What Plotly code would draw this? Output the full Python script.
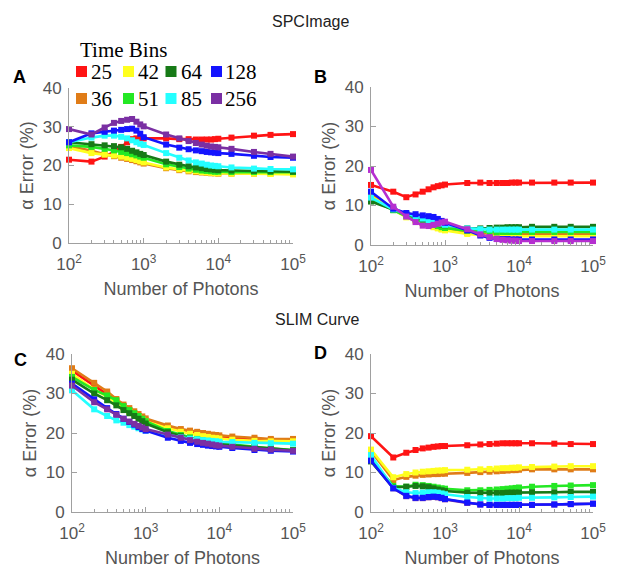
import plotly.graph_objects as go

# ---------------- data ----------------
photons = [100, 200, 300, 400, 500, 600, 700, 800, 900, 1000,
           2000, 3000, 4000, 5000, 6000, 7000, 8000, 9000, 10000,
           15000, 30000, 50000, 100000]
time_bins = [25, 36, 42, 51, 64, 85, 128, 256]
bin_colors = ['#ff1414', '#e07c17', '#ffff1e', '#24e824', '#177a17', '#24ffff', '#1414ff', '#7a2fa3']

x_tick_vals = [100, 1000, 10000, 100000]
x_tick_text = ['10<sup>2</sup>', '10<sup>3</sup>', '10<sup>4</sup>', '10<sup>5</sup>']
y_tick_vals = [0, 10, 20, 30, 40]

# Panel A: SPCImage, alpha error (%)
a_25 = [21.5, 21.0, 22.3, 23.5, 24.8, 26.0, 26.8, 27.0, 27.0, 27.0, 27.0, 26.8, 26.8, 26.7, 26.7, 26.7, 26.7, 26.8, 26.9, 27.2, 27.7, 27.9, 28.1]
a_36 = [25.0, 23.8, 22.9, 22.4, 22.0, 21.7, 21.4, 21.1, 20.8, 20.5, 19.3, 18.8, 18.5, 18.3, 18.2, 18.1, 18.0, 18.0, 17.9, 17.9, 17.9, 17.9, 17.9]
a_42 = [24.5, 23.2, 22.8, 22.6, 22.3, 22.0, 21.7, 21.4, 21.1, 20.8, 19.5, 19.0, 18.7, 18.5, 18.3, 18.2, 18.1, 18.0, 18.0, 17.9, 17.9, 17.8, 17.7]
a_51 = [25.2, 24.8, 24.3, 23.9, 23.5, 23.2, 22.9, 22.6, 22.3, 22.0, 20.3, 19.6, 19.2, 18.9, 18.7, 18.6, 18.5, 18.4, 18.4, 18.3, 18.3, 18.3, 18.3]
a_64 = [26.0, 25.5, 25.2, 25.0, 24.7, 24.3, 23.8, 23.4, 23.0, 22.7, 21.0, 20.2, 19.8, 19.5, 19.3, 19.1, 19.0, 18.9, 18.8, 18.7, 18.6, 18.5, 18.4]
a_85 = [26.0, 27.2, 27.7, 27.7, 27.4, 27.0, 26.5, 26.0, 25.6, 25.3, 23.2, 22.0, 21.3, 20.8, 20.5, 20.2, 20.0, 19.9, 19.8, 19.5, 19.2, 19.1, 19.0]
a_128 = [26.0, 28.3, 28.7, 29.0, 29.2, 29.4, 29.5, 29.0, 28.2, 27.3, 25.4, 24.6, 24.2, 23.9, 23.7, 23.5, 23.4, 23.3, 23.2, 23.0, 22.5, 22.2, 22.0]
a_256 = [29.4, 28.0, 29.8, 31.0, 31.5, 31.8, 32.0, 31.3, 30.6, 30.1, 28.0, 27.0, 26.3, 25.8, 25.4, 25.1, 24.9, 24.8, 24.7, 24.3, 23.5, 23.0, 22.3]

# Panel B: SPCImage
b_25 = [15.2, 13.5, 12.1, 12.8, 13.5, 14.1, 14.6, 14.9, 15.1, 15.3, 15.7, 15.8, 15.7, 15.7, 15.7, 15.7, 15.8, 15.8, 15.8, 15.8, 15.8, 15.8, 15.8]
b_36 = [12.8, 9.0, 7.2, 6.3, 5.6, 5.1, 4.7, 4.4, 4.1, 3.9, 3.1, 2.8, 2.7, 2.7, 2.7, 2.7, 2.7, 2.7, 2.7, 2.7, 2.7, 2.7, 2.7]
b_42 = [12.3, 8.9, 7.0, 6.1, 5.4, 4.9, 4.5, 4.2, 3.9, 3.7, 2.8, 2.5, 2.3, 2.2, 2.2, 2.2, 2.2, 2.2, 2.2, 2.2, 2.2, 2.2, 2.2]
b_51 = [11.5, 8.8, 7.3, 6.5, 5.9, 5.5, 5.1, 4.8, 4.5, 4.3, 3.6, 3.4, 3.3, 3.3, 3.3, 3.3, 3.3, 3.3, 3.3, 3.3, 3.3, 3.3, 3.3]
b_64 = [11.0, 8.9, 7.8, 7.0, 6.5, 6.1, 5.8, 5.5, 5.2, 5.0, 4.2, 4.2, 4.3, 4.4, 4.4, 4.5, 4.5, 4.5, 4.5, 4.6, 4.6, 4.6, 4.6]
b_85 = [12.0, 9.0, 7.9, 7.2, 6.7, 6.3, 6.0, 5.7, 5.4, 5.1, 4.2, 4.0, 3.9, 3.9, 3.9, 3.9, 3.9, 3.9, 3.9, 3.9, 3.9, 3.9, 3.9]
b_128 = [13.5, 9.2, 8.1, 7.8, 7.5, 7.3, 7.1, 6.6, 6.1, 5.6, 3.7, 2.4, 1.8, 1.6, 1.5, 1.5, 1.4, 1.4, 1.4, 1.4, 1.4, 1.4, 1.4]
b_256 = [19.0, 9.7, 7.2, 5.8, 4.9, 4.8, 5.1, 5.4, 5.7, 5.9, 4.0, 2.7, 2.0, 1.5, 1.3, 1.2, 1.1, 1.1, 1.0, 1.0, 1.0, 1.0, 1.0]

# Panel C: SLIM Curve
c_25 = [35.8, 32.0, 30.0, 28.2, 26.8, 25.8, 25.0, 24.3, 23.7, 23.2, 21.4, 20.6, 20.1, 19.8, 19.5, 19.3, 19.1, 19.0, 18.9, 18.6, 18.3, 18.2, 18.2]
c_36 = [36.4, 32.7, 30.5, 28.6, 27.2, 26.3, 25.5, 24.8, 24.2, 23.7, 21.9, 21.0, 20.6, 20.3, 20.0, 19.8, 19.6, 19.5, 19.4, 19.1, 18.8, 18.5, 18.5]
c_42 = [35.0, 31.0, 29.2, 27.6, 26.3, 25.3, 24.6, 24.0, 23.4, 23.0, 21.2, 20.3, 19.8, 19.5, 19.2, 19.0, 18.8, 18.7, 18.6, 18.3, 18.0, 17.9, 17.9]
c_51 = [34.2, 30.9, 29.5, 28.3, 26.8, 25.8, 25.0, 24.3, 23.6, 23.0, 20.5, 19.5, 18.9, 18.5, 18.2, 18.0, 17.8, 17.6, 17.5, 17.1, 16.5, 16.1, 15.7]
c_64 = [33.5, 30.0, 28.3, 27.0, 25.8, 25.0, 24.3, 23.6, 23.0, 22.4, 20.2, 19.2, 18.6, 18.2, 17.9, 17.7, 17.5, 17.3, 17.2, 16.9, 16.4, 16.0, 15.6]
c_85 = [30.8, 26.0, 24.3, 23.2, 22.6, 22.0, 21.6, 21.2, 20.9, 20.6, 19.5, 18.9, 18.6, 18.4, 18.2, 18.1, 18.0, 17.9, 17.8, 17.7, 17.5, 17.4, 17.3]
c_128 = [32.5, 28.5, 26.3, 24.8, 23.6, 22.8, 22.1, 21.5, 21.0, 20.6, 18.8, 18.0, 17.5, 17.2, 17.0, 16.8, 16.7, 16.6, 16.5, 16.2, 15.7, 15.5, 15.3]
c_256 = [32.0, 27.8, 26.0, 24.6, 23.6, 22.9, 22.3, 21.8, 21.4, 21.0, 19.6, 18.8, 18.2, 17.8, 17.5, 17.3, 17.1, 16.9, 16.8, 16.5, 16.0, 15.8, 15.5]

# Panel D: SLIM Curve
d_25 = [19.2, 13.8, 15.0, 15.7, 16.1, 16.3, 16.5, 16.6, 16.7, 16.7, 16.9, 17.1, 17.2, 17.3, 17.4, 17.4, 17.4, 17.4, 17.4, 17.4, 17.3, 17.2, 17.2]
d_36 = [15.4, 8.1, 8.9, 9.2, 9.4, 9.5, 9.6, 9.6, 9.7, 9.7, 9.9, 10.1, 10.2, 10.3, 10.4, 10.5, 10.6, 10.6, 10.7, 10.8, 10.8, 10.8, 10.8]
d_42 = [15.8, 8.8, 9.6, 10.0, 10.2, 10.3, 10.4, 10.5, 10.5, 10.6, 10.7, 10.8, 10.9, 11.0, 11.1, 11.1, 11.2, 11.2, 11.3, 11.4, 11.5, 11.6, 11.6]
d_51 = [13.3, 6.6, 6.4, 6.9, 6.8, 6.6, 6.4, 6.2, 6.0, 5.9, 5.5, 5.5, 5.6, 5.7, 5.8, 5.9, 6.0, 6.1, 6.2, 6.4, 6.6, 6.7, 6.8]
d_64 = [12.8, 6.2, 6.4, 6.6, 6.5, 6.3, 6.0, 5.7, 5.5, 5.3, 4.9, 4.8, 4.8, 4.8, 4.8, 4.9, 4.9, 4.9, 4.9, 5.0, 5.0, 5.1, 5.1]
d_85 = [14.4, 6.1, 5.0, 4.8, 4.9, 5.0, 5.0, 4.9, 4.7, 4.5, 3.8, 3.5, 3.4, 3.4, 3.4, 3.5, 3.5, 3.5, 3.6, 3.6, 3.7, 3.8, 3.9]
d_128 = [13.0, 6.0, 4.1, 3.6, 3.6, 3.8, 3.9, 3.8, 3.6, 3.3, 2.4, 1.9, 1.8, 1.8, 1.8, 1.8, 1.8, 1.8, 1.8, 1.8, 1.9, 2.0, 2.1]
d_256 = [13.0, 6.0, 4.0, 3.5, 3.5, 3.7, 3.8, 3.7, 3.5, 3.2, 2.3, 1.9, 1.8, 1.8, 1.8, 1.8, 1.8, 1.8, 1.8, 1.8, 1.9, 2.0, 2.1]

panel_a = [a_25, a_36, a_42, a_51, a_64, a_85, a_128, a_256]
panel_b = [b_25, b_36, b_42, b_51, b_64, b_85, b_128, b_256]
panel_c = [c_25, c_36, c_42, c_51, c_64, c_85, c_128, c_256]
panel_d = [d_25, d_36, d_42, d_51, d_64, d_85, d_128, d_256]

# ---------------- figure ----------------
W, H = 617, 573
fig = go.Figure()

def px_x(p):
    return p / W

def px_y(p):
    return 1 - p / H

panels = [
    # (data, axis suffix, x-domain px, y-domain px (top, bottom), draw order)
    (panel_a, '', (69, 293), (88, 243), [0, 1, 2, 3, 4, 5, 6, 7]),
    (panel_b, '2', (371, 593), (87, 245), [0, 1, 2, 3, 4, 5, 6, 7]),
    (panel_c, '3', (72, 293), (354, 512), [0, 1, 2, 3, 4, 5, 6, 7]),
    (panel_d, '4', (371, 593), (354, 512), [7, 0, 1, 2, 3, 4, 5, 6]),
]

sans = 'Liberation Sans, Arial, sans-serif'
serif = 'Liberation Serif, Times New Roman, serif'
tick_col = '#555555'
axis_col = '#a0a0a0'

minor_vals = [m * 10 ** e for e in (2, 3, 4) for m in range(2, 10)]

for pi, (data, sfx, xd, yd, order) in enumerate(panels):
    for si in order:
        col = bin_colors[si]
        if pi == 1 and time_bins[si] == 256:
            col = '#b52fd0'
        fig.add_trace(go.Scatter(
            x=photons, y=data[si], mode='lines+markers',
            name=str(time_bins[si]),
            line=dict(color=col, width=2.6),
            marker=dict(symbol='square', size=6, color=col),
            xaxis='x' + sfx, yaxis='y' + sfx,
            showlegend=False, cliponaxis=False,
        ))
    xa = dict(
        domain=[px_x(xd[0]), px_x(xd[1])],
        anchor='y' + sfx,
        type='log', range=[2, 5],
        tickmode='array', tickvals=x_tick_vals, ticktext=x_tick_text,
        ticks='inside', ticklen=5, tickcolor=axis_col, tickwidth=1,
        minor=dict(ticks='inside', ticklen=3, tickcolor=axis_col, tickmode='array', tickvals=minor_vals, showgrid=False),
        showline=True, linecolor=axis_col, linewidth=1,
        showgrid=False, zeroline=False, automargin=False,
        tickfont=dict(family=sans, size=17, color=tick_col),
        ticklabelstandoff=6,
        title=dict(text='Number of Photons', font=dict(family=sans, size=18, color=tick_col), standoff=8),
    )
    ya = dict(
        domain=[px_y(yd[1]), px_y(yd[0])],
        anchor='x' + sfx,
        range=[0, 40],
        tickmode='array', tickvals=y_tick_vals,
        ticks='inside', ticklen=5, tickcolor=axis_col, tickwidth=1,
        showline=True, linecolor=axis_col, linewidth=1,
        showgrid=False, zeroline=False, automargin=False,
        tickfont=dict(family=sans, size=17, color=tick_col),
        ticklabelstandoff=3,
        title=dict(text='α Error (%)', font=dict(family=sans, size=18, color=tick_col), standoff=4),
    )
    fig.update_layout({'xaxis' + sfx: xa, 'yaxis' + sfx: ya})

annotations = []
# section titles
annotations.append(dict(text='SPCImage', x=px_x(310), y=px_y(22), xref='paper', yref='paper',
                        xanchor='center', yanchor='middle',
                        showarrow=False, font=dict(family=sans, size=16, color='#222222')))
annotations.append(dict(text='SLIM Curve', x=px_x(318), y=px_y(319), xref='paper', yref='paper',
                        xanchor='center', yanchor='middle',
                        showarrow=False, font=dict(family=sans, size=16, color='#222222')))
# panel letters
for letter, lx, ly in [('A', 19, 77), ('B', 320, 77), ('C', 20, 360), ('D', 320, 353)]:
    annotations.append(dict(text='<b>%s</b>' % letter, x=px_x(lx), y=px_y(ly), xref='paper', yref='paper',
                            xanchor='center', yanchor='middle',
                            showarrow=False, font=dict(family=sans, size=18, color='#000000')))

# legend (manual, MATLAB-style 2 rows x 4 columns)
annotations.append(dict(text='Time Bins', x=px_x(78), y=px_y(50), xref='paper', yref='paper',
                        xanchor='left', yanchor='middle', showarrow=False,
                        font=dict(family=serif, size=21, color='#000000')))
shapes = []
sq_cx = [81.5, 128.5, 171, 216.5]
txt_x = [89, 136, 179, 223]
row_cy = [71.5, 98.5]
for idx, tb in enumerate(time_bins):
    col_i = idx // 2
    row_i = idx % 2
    cx, cy = sq_cx[col_i], row_cy[row_i]
    shapes.append(dict(type='rect', xref='paper', yref='paper',
                       x0=px_x(cx - 5.5), x1=px_x(cx + 5.5), y0=px_y(cy + 5.5), y1=px_y(cy - 5.5),
                       fillcolor=bin_colors[idx], line=dict(width=0)))
    annotations.append(dict(text=str(tb), x=px_x(txt_x[col_i]), y=px_y(cy + 0.5), xref='paper', yref='paper',
                            xanchor='left', yanchor='middle', showarrow=False,
                            font=dict(family=serif, size=21, color='#000000')))

fig.update_layout(
    width=W, height=H,
    margin=dict(l=0, r=0, t=0, b=0),
    paper_bgcolor='white', plot_bgcolor='white',
    showlegend=False,
    annotations=annotations,
    shapes=shapes,
)

fig.write_html('out.html', config={'displayModeBar': False},
               post_script="document.body.style.margin='0px';document.body.style.overflow='hidden';")
